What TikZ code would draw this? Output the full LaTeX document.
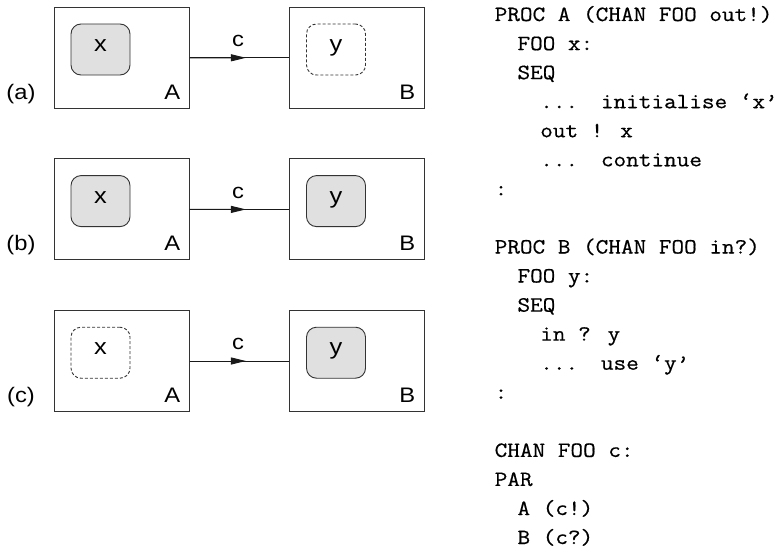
\documentclass[tikz,border=0pt]{standalone}
\usepackage{fontspec}
\newfontfamily\labfont[FakeStretch=1.13]{Liberation Sans}
\newfontfamily\codefont[FakeStretch=1.13,FakeBold=0.6]{Latin Modern Mono}
\usetikzlibrary{arrows.meta,calc}
\tikzset{
  proc/.style={draw=black!80, line width=1pt, minimum width=134.7pt, minimum height=101pt, inner sep=0pt},
  var/.style={draw=black!80, line width=0.9pt, rounded corners=10pt, minimum width=59pt, minimum height=51pt, inner sep=0pt, text height=1ex, text depth=0pt, font=\labfont\fontsize{22.5}{22.5}\selectfont},
  held/.style={var, fill=black!12},
  gone/.style={var, dash pattern=on 3pt off 2pt},
  lab/.style={font=\labfont\fontsize{21}{21}\selectfont, inner sep=0pt, anchor=base},
  code/.style={font=\codefont\fontsize{21.7}{21.7}\selectfont, inner sep=0pt, anchor=base west},
  chan/.style={line width=1pt, draw=black!90},
  tip/.style={-{Triangle[length=15pt,width=7pt]}}
}
\begin{document}
\begin{tikzpicture}[x=1pt,y=-1pt]
\useasboundingbox (0,0) rectangle (783,551);
% row (a)
\node[proc] (Aa) at (121.7,57.8) {};
\node[proc] (Ba) at (356.8,57.8) {};
\node[held] (xa) at (100.5,49.5) {x};
\node[gone] (ya) at (336,49.5) {y};
\node[lab] (Ala) at (172.3,99.3) {A};
\node[lab] (Bla) at (407.3,99.3) {B};
\node[lab] (ra) at (21,99.3) {(a)};
\draw[chan] (Aa.east) -- (Ba.west);
\draw[chan,tip] (Aa.east) -- ($(Aa.east)!0.567!(Ba.west)$) coordinate (ta);
\node[lab] (ca) at (238,46.7) {c};
% row (b)
\node[proc] (Ab) at (121.7,209.4) {};
\node[proc] (Bb) at (356.8,209.4) {};
\node[held] (xb) at (100.5,201.1) {x};
\node[held] (yb) at (336,201.1) {y};
\node[lab] (Alb) at (172.3,250.9) {A};
\node[lab] (Blb) at (407.3,250.9) {B};
\node[lab] (rb) at (21,250.9) {(b)};
\draw[chan] (Ab.east) -- (Bb.west);
\draw[chan,tip] (Ab.east) -- ($(Ab.east)!0.567!(Bb.west)$) coordinate (tb);
\node[lab] (cb) at (238,198.3) {c};
% row (c)
\node[proc] (Ac) at (121.7,361.0) {};
\node[proc] (Bc) at (356.8,361.0) {};
\node[gone] (xc) at (100.5,352.7) {x};
\node[held] (yc) at (336,352.7) {y};
\node[lab] (Alc) at (172.3,402.5) {A};
\node[lab] (Blc) at (407.3,402.5) {B};
\node[lab] (rc) at (21,402.5) {(c)};
\draw[chan] (Ac.east) -- (Bc.west);
\draw[chan,tip] (Ac.east) -- ($(Ac.east)!0.567!(Bc.west)$) coordinate (tc);
\node[lab] (cc) at (238,349.9) {c};
% code
\def\ind#1{\hspace*{#1\dimexpr 0.525em\relax}}
\node[code] (l1) at (494.5,21.0) {PROC A (CHAN FOO out!)};
\node[code] (l2) at (494.5,50.1) {\ind{2}FOO x:};
\node[code] (l3) at (494.5,79.1) {\ind{2}SEQ};
\node[code] (l4) at (494.5,108.2) {\ind{4}...\ind{2}initialise ‘x’};
\node[code] (l5) at (494.5,137.2) {\ind{4}out ! x};
\node[code] (l6) at (494.5,166.3) {\ind{4}...\ind{2}continue};
\node[code] (l7) at (494.5,195.4) {:};
\node[code] (l9) at (494.5,253.5) {PROC B (CHAN FOO in?)};
\node[code] (l10) at (494.5,282.5) {\ind{2}FOO y:};
\node[code] (l11) at (494.5,311.6) {\ind{2}SEQ};
\node[code] (l12) at (494.5,340.6) {\ind{4}in ? y};
\node[code] (l13) at (494.5,369.7) {\ind{4}...\ind{2}use ‘y’};
\node[code] (l14) at (494.5,398.8) {:};
\node[code] (l16) at (494.5,456.9) {CHAN FOO c:};
\node[code] (l17) at (494.5,485.9) {PAR};
\node[code] (l18) at (494.5,515.0) {\ind{2}A (c!)};
\node[code] (l19) at (494.5,544.0) {\ind{2}B (c?)};
\end{tikzpicture}
\end{document}
